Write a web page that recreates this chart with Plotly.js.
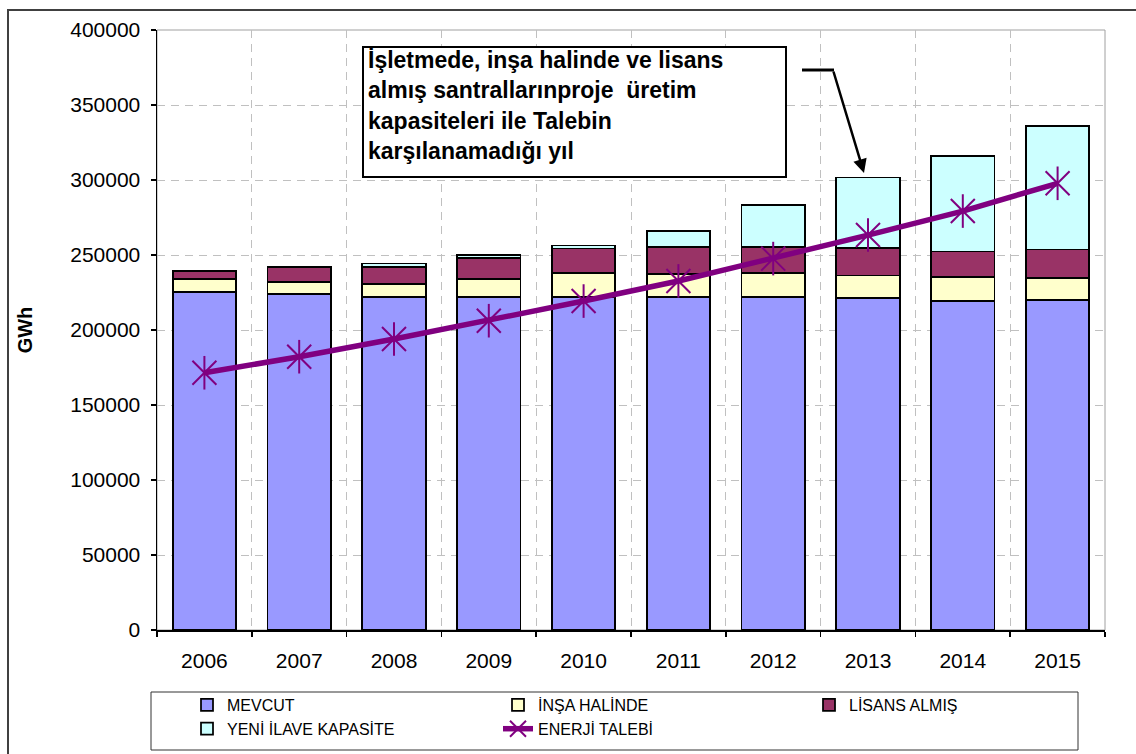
<!DOCTYPE html>
<html>
<head>
<meta charset="utf-8">
<script src="https://cdn.plot.ly/plotly-3.0.1.min.js"></script>
<style>html,body{margin:0;padding:0;background:#fff;}#chart{width:1136px;height:754px;}</style>
</head>
<body>
<div id="chart"></div>
<script>
const years = ['2006','2007','2008','2009','2010','2011','2012','2013','2014','2015'];
const mevcut = [225500, 224200, 221800, 221800, 221800, 221800, 221800, 221300, 219100, 220200];
const insaHalinde = [8300, 8000, 8900, 12000, 16000, 15300, 16000, 15100, 16000, 14700];
const lisansAlmis = [5500, 9600, 11500, 14000, 16600, 18000, 17300, 18500, 17300, 18700];
const yeniIlave = [0, 0, 2200, 2000, 2000, 10700, 28200, 46700, 63800, 82600];
const enerjiTalebi = [171500, 182200, 194000, 206200, 219300, 232700, 247600, 263300, 279300, 297800];
const yTicks = [0, 50000, 100000, 150000, 200000, 250000, 300000, 350000, 400000];
const noteLines = ['İşletmede, inşa halinde ve lisans', 'almış santrallarınproje  üretim', 'kapasiteleri ile Talebin', 'karşılanamadığı yıl'];

const FONT = 'Liberation Sans, Arial, sans-serif';
const outline = {color: '#000000', width: 1.75};
const purple = '#800080';

const traces = [
  {type:'bar', name:'MEVCUT', x:years, y:mevcut, marker:{color:'#9999FF', line:outline}},
  {type:'bar', name:'İNŞA HALİNDE', x:years, y:insaHalinde, marker:{color:'#FFFFCC', line:outline}},
  {type:'bar', name:'LİSANS ALMIŞ', x:years, y:lisansAlmis, marker:{color:'#993366', line:outline}},
  {type:'bar', name:'YENİ İLAVE KAPASİTE', x:years, y:yeniIlave, marker:{color:'#CCFFFF', line:outline}},
  {type:'scatter', mode:'lines+markers', name:'ENERJİ TALEBİ', x:years, y:enerjiTalebi,
   line:{color:purple, width:5.5},
   marker:{symbol:'x-thin-open', size:24, color:purple, line:{color:purple, width:2}}},
  {type:'scatter', mode:'markers', name:'ENERJİ TALEBİ', showlegend:false, x:years, y:enerjiTalebi,
   marker:{symbol:'line-ns-open', size:24, color:purple, line:{color:purple, width:2}}}
];

// pixel helpers for layout decorations (plot area 157..1105 x 30..630)
const PL = 157, PW = 948, PT = 30, PH = 600;
const px = v => (v - PL) / PW;
const py = v => (PT + PH - v) / PH;

const annotations = noteLines.map((t, i) => ({
  xref:'paper', yref:'paper', x:px(366), y:py(60 + i * 30.3), xanchor:'left', yanchor:'middle',
  text:'<b>' + t + '</b>', showarrow:false, font:{family:FONT, size:23, color:'#000'}
}));
annotations.push({
  xref:'paper', yref:'paper', x:px(864), y:py(173), axref:'pixel', ayref:'pixel',
  ax:-31, ay:-103, showarrow:true, arrowhead:2, arrowsize:1.1, arrowwidth:2.5, arrowcolor:'#000', text:''
});

const layout = {
  width:1136, height:754,
  margin:{l:PL, r:1136 - PL - PW, t:PT, b:754 - PT - PH, autoexpand:false},
  paper_bgcolor:'#ffffff', plot_bgcolor:'#ffffff',
  font:{family:FONT, size:21, color:'#000'},
  barmode:'stack', bargap:0.33,
  showlegend:true,
  legend:{orientation:'h', x:px(187), xanchor:'left', y:py(688), yanchor:'top',
    entrywidth:266, entrywidthmode:'pixels', font:{family:FONT, size:16, color:'#000'},
    bgcolor:'rgba(0,0,0,0)', borderwidth:0, traceorder:'normal'},
  xaxis:{type:'category', range:[-0.5, 9.5], tickson:'boundaries', ticks:'outside', ticklen:5, tickwidth:1.5, tickcolor:'#000',
    showline:true, linecolor:'#000', linewidth:1.5, showgrid:true, gridcolor:'#C0C0C0', gridwidth:1,
    griddash:'8px,6px', tickfont:{size:21}, ticklabelstandoff:11, zeroline:false, fixedrange:true},
  yaxis:{range:[0,400000], tickvals:yTicks, tickformat:'d', ticks:'outside', ticklen:5, tickwidth:1.5, tickcolor:'#000',
    showline:true, linecolor:'#000', linewidth:1.5, showgrid:true, gridcolor:'#C0C0C0', gridwidth:1,
    griddash:'8px,6px', zeroline:false, tickfont:{size:21}, ticklabelstandoff:6,
    title:{text:'<b>GWh</b>', font:{size:20}, standoff:32}, fixedrange:true},
  shapes:[
    {type:'rect', xref:'paper', yref:'paper', x0:0, x1:1, y0:0, y1:1, line:{color:'#A0A0A0', width:1}, layer:'below'},
    {type:'rect', xref:'paper', yref:'paper', x0:px(8), x1:px(1150), y0:py(770), y1:py(10), line:{color:'#404040', width:2}, fillcolor:'rgba(0,0,0,0)'},
    {type:'rect', xref:'paper', yref:'paper', x0:px(151), x1:px(1078), y0:py(750), y1:py(692), line:{color:'#333', width:1}, fillcolor:'rgba(0,0,0,0)'},
    {type:'rect', xref:'paper', yref:'paper', x0:px(363), x1:px(786), y0:py(177), y1:py(47), line:{color:'#000', width:2}, fillcolor:'#ffffff', layer:'above'},
    {type:'line', xref:'paper', yref:'paper', x0:px(802), x1:px(834), y0:py(70), y1:py(70), line:{color:'#000', width:3}}
  ],
  annotations:annotations
};

Plotly.newPlot('chart', traces, layout, {displayModeBar:false, staticPlot:true});
</script>
</body>
</html>
